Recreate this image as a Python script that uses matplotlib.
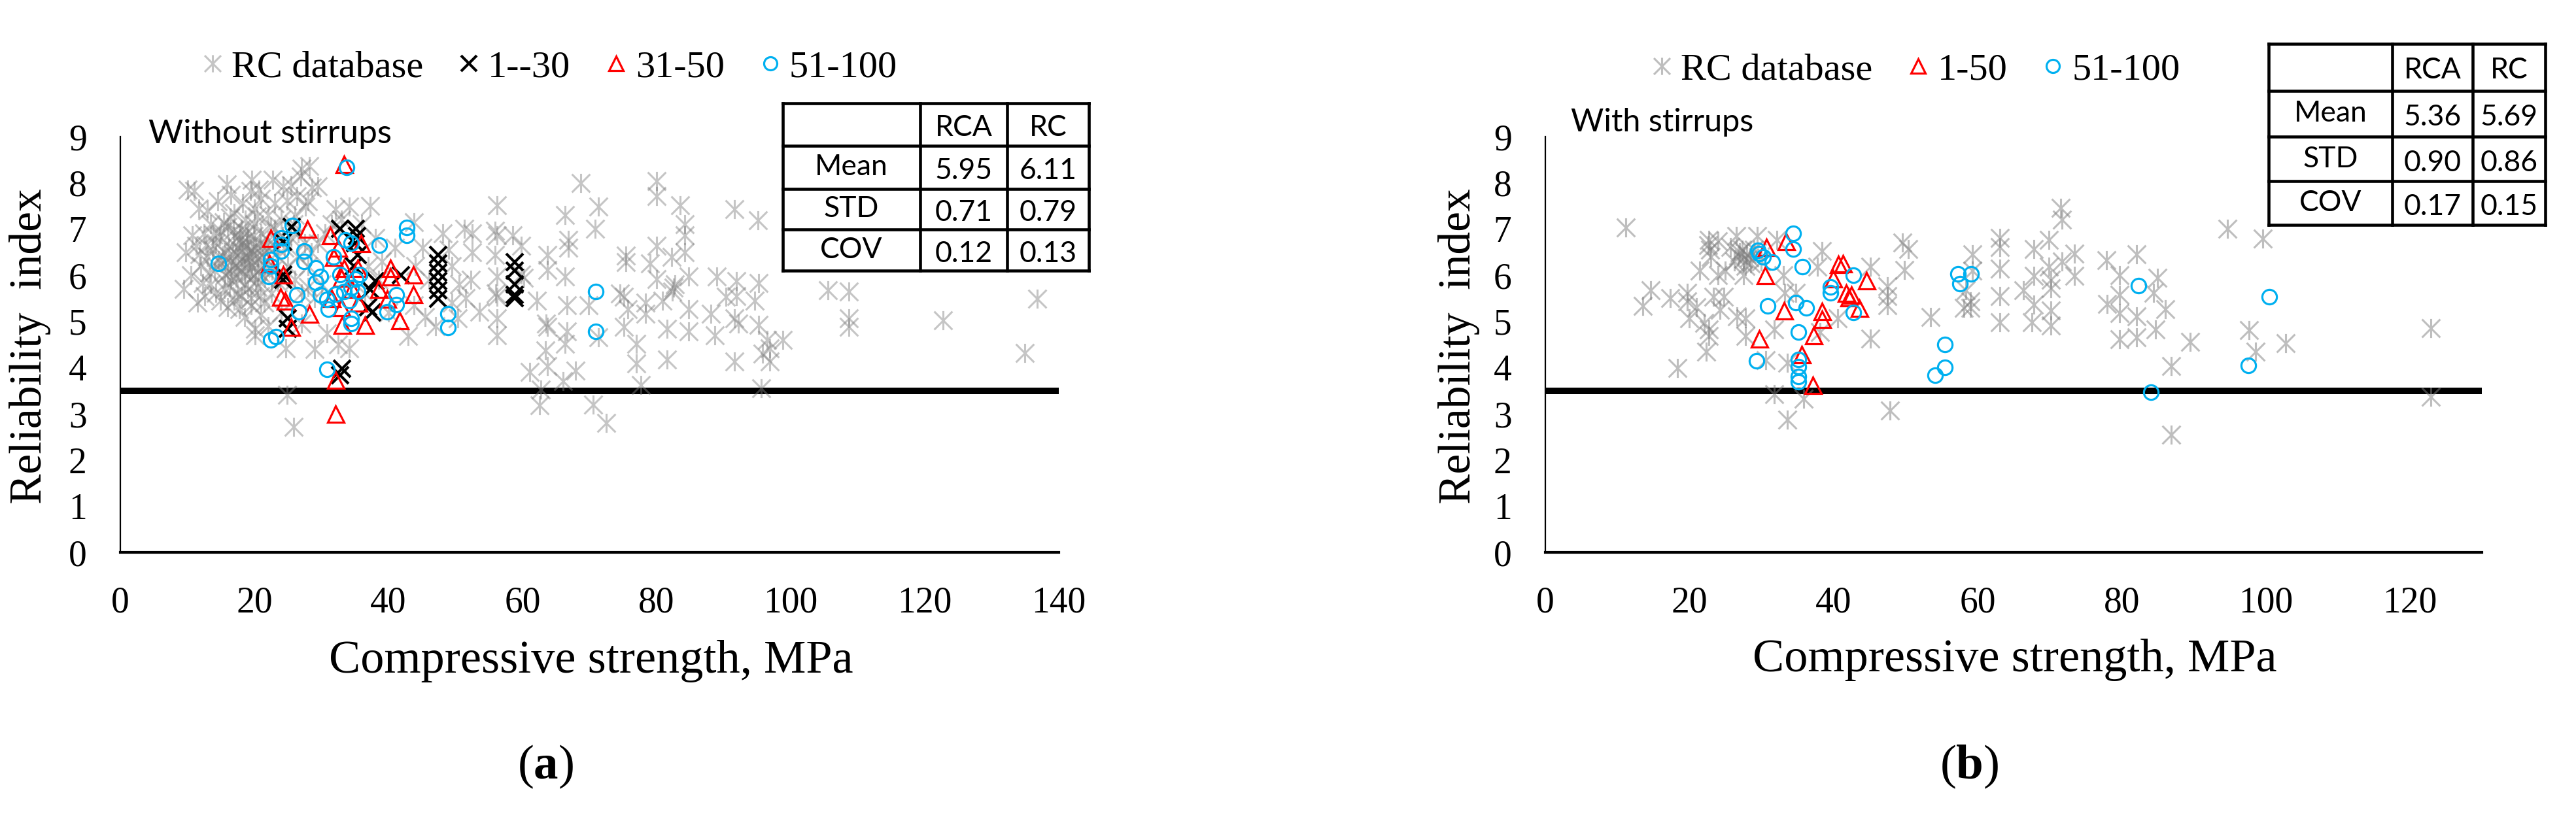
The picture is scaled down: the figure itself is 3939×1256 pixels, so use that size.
import numpy as np
import matplotlib
matplotlib.use("Agg")
import matplotlib.pyplot as plt
from matplotlib.path import Path
from matplotlib.lines import Line2D
from matplotlib.font_manager import FontProperties

plt.rcParams['font.family'] = ['Liberation Serif', 'DejaVu Serif']
plt.rcParams['mathtext.fontset'] = 'custom'
plt.rcParams['mathtext.rm'] = 'Liberation Serif'
plt.rcParams['mathtext.bf'] = 'Liberation Serif:bold'

# ---------------- data ----------------
# Panel (a): without stirrups
rc_a = [(11.0,7.83),(11.7,7.45),(15.9,7.97),(16.5,7.74),(19.6,8.07),(19.4,7.83),(22.7,8.07),(24.3,7.93),
        (26.9,8.14),(28.2,8.37),(28.6,7.90),(26.3,7.71),(29.5,7.93),(24.9,7.62),(27.6,7.48),(27.0,8.30),
        (25.5,7.95),(23.0,7.55),(21.0,7.65),(18.2,7.55),(14.5,7.60),(13.0,7.40),(17.0,7.35),(20.0,7.45),
        (22.0,7.30),(28.0,7.60),(26.0,7.30),(24.0,7.20),(10.0,7.85),(10.7,6.86),(11.3,6.63),(9.8,6.50),
        (12.5,6.90),(13.5,7.10),(14.2,6.70),(15.0,6.95),(16.0,7.05),(17.0,6.85),(18.0,7.00),(19.0,6.80),
        (20.0,7.10),(21.0,6.90),(22.0,6.75),(23.0,7.00),(15.5,6.50),(16.5,6.30),(17.5,6.60),(18.5,6.40),
        (19.5,6.55),(20.5,6.35),(21.5,6.50),(13.0,6.40),(12.0,6.20),(14.0,6.10),(15.0,6.25),(16.0,6.05),
        (17.0,6.20),(18.0,6.10),(19.0,6.25),(20.0,6.00),(21.0,6.15),(22.0,6.30),(23.5,6.40),(24.5,6.60),
        (25.5,6.80),(26.5,6.90),(27.5,6.70),(28.5,6.50),(29.5,6.70),(30.5,6.90),(31.5,7.10),(32.1,7.43),
        (34.1,7.48),(37.3,7.50),(36.0,7.10),(38.0,6.80),(39.0,6.30),(17.8,6.75),(18.8,6.65),(19.8,6.45),
        (16.8,6.45),(20.8,6.70),(17.3,5.95),(18.3,6.30),(19.3,6.05),(14.8,6.85),(13.8,6.55),(12.3,5.83),
        (12.6,5.55),(14.9,5.45),(17.8,5.26),(13.5,5.80),(15.5,5.70),(16.5,5.90),(17.5,5.60),(18.5,5.80),
        (19.5,5.50),(20.5,5.75),(21.5,5.40),(22.5,5.60),(23.5,5.85),(26.0,5.90),(27.0,5.60),(28.0,5.75),
        (29.0,5.50),(30.0,5.80),(16.0,5.30),(18.5,5.10),(19.5,5.35),(21.0,5.15),(24.0,5.20),(25.0,6.20),
        (26.5,6.40),(28.0,6.20),(10.5,6.00),(11.5,5.40),(9.5,5.70),
        (16.2,6.62),(17.2,6.48),(18.2,6.72),(19.2,6.38),(20.2,6.58),(17.6,6.18),(18.6,6.02),(19.6,6.18),
        (16.6,6.12),(20.6,6.08),(15.2,6.42),(21.2,6.42),(17.9,6.88),(18.9,6.92),(16.9,6.98),(19.9,6.85),
        (14.6,6.32),(15.6,6.02),(16.3,5.75),(18.0,5.55),(19.0,5.70),(20.2,5.85),(21.6,5.95),(22.6,6.10),
        (23.2,6.62),(24.2,6.85),(22.4,7.05),(20.4,7.28),(18.6,7.20),(16.4,7.25),(15.4,7.15),(13.9,6.88),
        (12.8,6.65),(11.8,6.45),(13.3,6.05),(14.2,5.62),(17.0,5.45),(20.9,5.55),(19.1,6.50),(18.1,6.52),
        (20.7,7.85),(25.9,7.10),(23.8,5.95),(21.8,6.62),
        (20.1,4.84),(20.1,4.70),(24.7,4.41),(34.1,4.41),(32.5,4.50),(42.9,4.69),(24.9,3.41),(25.9,2.71),
        (30.8,4.74),(22.0,4.90),(27.0,4.95),(29.0,4.40),
        (43.8,7.15),(48.1,6.91),(51.3,7.01),(45.1,6.60),(49.0,6.55),(43.8,5.35),(50.3,5.07),(37.0,6.20),
        (38.5,5.90),(41.0,6.60),(44.0,6.20),(46.0,5.90),(49.5,6.20),(50.5,5.80),(51.5,5.50),(49.5,5.40),
        (45.5,5.10),(47.0,4.90),(40.0,5.20),(36.5,5.60),(33.0,7.20),
        (56.2,7.52),(55.9,6.96),(56.2,6.86),(55.9,6.44),(58.5,6.86),(59.8,6.63),(56.2,5.97),(56.2,5.54),
        (56.0,5.60),(56.2,5.07),(56.2,4.70),(53.6,5.21),(52.5,6.90),(52.5,6.50),(52.3,5.90),(59.8,6.02),
        (60.2,5.95),(63.7,6.44),(63.7,6.11),(66.3,7.30),(66.8,6.77),(66.8,6.59),(66.3,5.97),(62.1,5.45),
        (63.7,4.88),(63.5,4.95),(66.6,5.35),(66.6,4.79),(66.3,4.51),(63.4,4.37),(63.7,4.04),(61.1,3.90),
        (67.9,3.94),(66.0,3.71),(62.7,3.52),(62.5,3.19),(68.7,8.00),(71.3,7.48),(70.8,7.01),(69.9,5.35),
        (71.3,4.65),(70.5,3.20),(72.5,2.80),(75.4,6.42),(75.4,6.28),(75.1,5.54),(74.5,5.60),(75.1,4.88),
        (77.0,4.51),(77.0,4.09),(77.7,3.62),(75.7,5.26),(78.3,5.17),(78.3,5.40),(80.0,8.04),(80.0,7.71),
        (83.5,7.52),(84.2,7.10),(84.2,6.86),(84.2,6.49),(80.0,6.63),(79.0,6.25),(82.2,6.39),(80.0,5.92),
        (82.5,5.73),(82.7,5.80),(82.3,5.65),(80.9,5.45),(84.8,5.97),(84.8,5.26),(84.8,4.79),(81.6,4.84),
        (81.6,4.18),(89.0,5.97),(90.3,5.54),(91.9,5.87),(91.9,5.55),(95.2,5.83),(94.6,5.45),(88.1,5.17),
        (88.7,4.70),(91.6,5.07),(92.2,4.95),(95.2,4.93),(96.5,4.60),(98.8,4.60),(96.9,4.41),(96.9,4.13),
        (95.8,4.30),(91.6,4.13),(95.6,3.55),(91.6,7.43),(95.1,7.19),
        (105.6,5.68),(108.7,5.64),(108.7,5.07),(108.7,4.88),(122.7,5.02),(136.8,5.49),(134.9,4.32)]

g1_30_a = [(25.6,7.05),(32.8,7.00),(35.1,7.00),(35.3,6.85),(35.0,6.70),(24.3,6.72),(24.3,6.02),(24.3,5.90),
           (35.4,6.44),(34.8,6.20),(38.0,5.87),(37.3,5.69),(37.0,5.31),(37.6,5.20),(25.0,5.07),(25.0,4.84),
           (33.1,3.98),(32.8,3.84),(41.9,6.00),(47.4,6.44),(47.4,6.25),(47.4,6.06),(47.4,5.87),(47.4,5.68),
           (47.4,5.49),(58.8,6.29),(58.8,6.10),(58.8,5.80),(58.8,5.58),(58.8,5.50)]

g31_50_a = [(33.4,8.40),(27.9,7.00),(22.4,6.81),(31.3,6.86),(35.9,6.69),(24.3,6.02),(22.2,6.25),(23.9,5.54),
            (24.6,5.45),(28.2,5.17),(25.5,4.88),(33.1,4.93),(36.5,4.93),(40.3,6.16),(40.3,5.97),(43.7,6.01),
            (43.7,5.59),(41.7,5.03),(39.8,5.49),(32.1,3.73),(32.1,3.00),(31.8,6.39),(33.4,6.16),(35.4,6.16),
            (32.5,6.60),(33.0,5.95),(34.5,5.70),(31.5,5.50),(35.5,5.40),(33.0,5.30),(38.5,5.70)]

g51_100_a = [(33.8,8.34),(14.6,6.26),(25.7,7.08),(24.0,6.81),(24.0,6.67),(24.0,6.53),(22.4,6.34),(22.4,6.20),
             (22.1,5.97),(27.4,6.53),(27.4,6.30),(26.3,5.58),(26.6,5.21),(22.4,4.60),(23.2,4.67),(30.8,3.96),
             (33.6,6.77),(34.4,6.69),(38.6,6.65),(42.7,7.03),(42.7,6.86),(48.9,5.17),(48.9,4.87),(41.2,5.58),
             (41.2,5.37),(39.8,5.21),(34.4,5.07),(34.4,4.95),(29.2,6.16),(29.2,5.85),(29.9,5.57),(30.8,5.48),
             (31.8,6.39),(32.8,6.02),(33.4,5.64),(34.1,5.45),(35.1,5.92),(35.4,5.64),(29.9,5.97),(32.1,5.59),
             (34.4,5.73),(35.7,6.02),(31.0,5.26),(70.9,5.65),(70.9,4.79)]

# Panel (b): with stirrups
rc_b = [(11.2,7.04),(14.6,5.67),(13.5,5.34),(17.3,5.50),(19.7,5.62),(19.7,5.43),(20.0,5.06),(22.1,4.96),
        (22.7,4.82),(22.7,4.68),(22.3,4.35),(18.3,3.99),(21.4,6.10),(22.7,6.76),(22.6,6.65),(24.0,6.73),
        (24.0,6.00),(23.3,5.53),(24.8,5.53),(24.2,5.25),(26.5,6.85),(25.7,6.61),(27.0,6.50),(27.5,6.35),
        (28.0,6.45),(28.5,6.25),(29.0,6.55),(27.8,6.20),(26.2,6.30),(27.5,6.00),(26.6,5.11),(27.8,5.06),
        (27.8,4.68),(29.4,6.85),(32.1,6.76),(31.8,4.82),(33.0,6.00),(33.2,5.62),(34.8,5.62),(31.8,3.42),
        (35.9,3.32),(33.6,2.87),(38.4,6.52),(37.8,6.19),(38.1,4.77),(40.6,5.06),(45.1,6.19),(45.1,4.63),
        (47.5,5.76),(47.5,5.55),(47.5,5.35),(47.8,3.07),(30.6,4.16),(33.6,4.11),(23.0,6.40),(25.0,6.10),
        (30.0,6.30),(21.0,5.30),(26.8,6.42),(27.3,6.55),(28.3,6.38),(22.9,6.55),
        (49.6,6.71),(50.4,6.57),(49.8,6.12),(53.5,5.10),(59.3,6.45),(59.3,6.10),(58.4,5.67),(59.0,5.43),
        (59.0,5.29),(58.1,5.29),(63.1,6.80),(63.1,6.61),(63.1,6.14),(63.1,5.55),(63.1,4.98),(66.4,5.67),
        (67.8,6.57),(67.8,5.98),(67.8,5.36),(67.5,4.98),(69.9,6.76),(69.9,6.19),(70.2,5.90),(70.2,5.71),
        (70.2,5.24),(70.2,4.91),(71.5,7.46),(71.7,7.20),(73.4,6.47),(73.4,5.98),(71.7,6.30),(77.9,6.33),
        (79.7,6.00),(79.7,5.57),(78.0,5.38),(79.7,5.18),(79.7,4.61),(82.1,6.45),(82.1,5.11),(82.1,4.66),
        (85.0,5.95),(84.4,5.62),(86.1,5.27),(84.7,4.82),(89.5,4.56),(86.9,4.04),(86.9,2.55),(94.7,7.00),
        (99.6,6.79),(97.7,4.81),(98.6,4.35),(102.8,4.53),(122.9,4.86),(122.9,3.37)]

g1_50_b = [(30.7,6.61),(33.4,6.73),(30.5,6.00),(40.7,6.24),(41.3,6.26),(39.9,5.93),(41.8,5.62),(42.1,5.52),
           (42.5,5.58),(43.6,5.29),(44.6,5.88),(33.1,5.24),(38.4,5.22),(38.4,5.05),(37.2,4.70),(29.7,4.63),
           (35.6,4.29),(37.1,3.62)]

g51_100_b = [(29.5,6.54),(29.7,6.47),(30.2,6.40),(31.5,6.28),(34.4,6.90),(34.4,6.57),(35.7,6.19),(39.6,5.74),
             (39.6,5.62),(42.8,6.00),(42.8,5.20),(34.8,5.41),(36.2,5.29),(30.9,5.34),(35.1,4.77),(29.3,4.14),
             (35.1,4.18),(35.1,4.02),(35.1,3.81),(35.1,3.69),
             (57.3,6.03),(59.1,6.03),(57.6,5.81),(55.5,4.50),(55.5,4.01),(54.1,3.84),(82.3,5.78),(84.1,3.47),
             (100.5,5.54),(97.6,4.05)]

target_beta = 3.5

table_cols = ["", "RCA", "RC"]
table_rows = ["Mean", "STD", "COV"]
table_a = [["5.95", "6.11"], ["0.71", "0.79"], ["0.12", "0.13"]]
table_b = [["5.36", "5.69"], ["0.90", "0.86"], ["0.17", "0.15"]]

labels_a = ["RC database", "1--30", "31-50", "51-100"]
labels_b = ["RC database", "1-50", "51-100"]

xticks_a = [0, 20, 40, 60, 80, 100, 120, 140]
xticks_b = [0, 20, 40, 60, 80, 100, 120]
yticks = [0, 1, 2, 3, 4, 5, 6, 7, 8, 9]

# ---------------- figure ----------------
W, H = 3939, 1256
fig = plt.figure(figsize=(W / 100, H / 100), dpi=100)

def fx(px):
    return px / W

def fy(py):
    return 1 - py / H

star = Path([(-1, -1), (1, 1), (-1, 1), (1, -1), (0, -1.05), (0, 1.05)],
            [Path.MOVETO, Path.LINETO, Path.MOVETO, Path.LINETO, Path.MOVETO, Path.LINETO])

GRAY = '#7f7f7f'
RED = '#FF0000'
BLUE = '#00B0F0'

def setup_axes(rect, xmax, xticks):
    ax = fig.add_axes(rect)
    ax.set_xlim(0, xmax)
    ax.set_ylim(0, 9)
    ax.set_xticks(xticks)
    ax.set_yticks(yticks)
    ax.spines['top'].set_visible(False)
    ax.spines['right'].set_visible(False)
    ax.spines['left'].set_linewidth(1.6)
    ax.spines['bottom'].set_linewidth(3.0)
    ax.tick_params(length=0, pad=37, labelsize=40)
    ax.axhline(target_beta, color='black', lw=7.2, zorder=1)
    return ax

def draw_table(cols_px, rows_px, values):
    lw = 3.3
    for c in cols_px:
        fig.add_artist(Line2D([fx(c), fx(c)], [fy(rows_px[0]), fy(rows_px[-1])],
                              color='black', lw=lw, transform=fig.transFigure))
    for r in rows_px:
        fig.add_artist(Line2D([fx(cols_px[0]), fx(cols_px[-1])], [fy(r), fy(r)],
                              color='black', lw=lw, transform=fig.transFigure, solid_capstyle='projecting'))
    fp = dict(family=['Lato', 'DejaVu Sans'], size=32)
    for j, name in enumerate(table_cols):
        if name:
            cx = (cols_px[j] + cols_px[j + 1]) / 2
            cy = (rows_px[0] + rows_px[1]) / 2 + 5
            fig.text(fx(cx), fy(cy), name, ha='center', va='center', **fp)
    for i, name in enumerate(table_rows):
        cy = (rows_px[i + 1] + rows_px[i + 2]) / 2
        cx = (cols_px[0] + cols_px[1]) / 2
        fig.text(fx(cx), fy(cy), name, ha='center', va='center', **fp)
        for j in range(2):
            cx = (cols_px[j + 1] + cols_px[j + 2]) / 2
            fig.text(fx(cx), fy(cy + 6), values[i][j], ha='center', va='center', **fp)

def plot_group(ax, pts, **kw):
    a = np.array(pts)
    return ax.plot(a[:, 0], a[:, 1], linestyle='none', **kw)[0]

legend_font = FontProperties(family='Liberation Serif', size=42)

# ---------- panel (a) ----------
axa = setup_axes([fx(184), fy(845), fx(1619 - 184), (845 - 209) / H], 140, xticks_a)
h0 = plot_group(axa, rc_a, marker=star, markersize=21, markeredgewidth=2.2, markeredgecolor=GRAY,
                markerfacecolor='none', alpha=0.45, zorder=2)
h1 = plot_group(axa, g1_30_a, marker='x', markersize=19, markeredgewidth=3.0, color='black', zorder=3)
h2 = plot_group(axa, g31_50_a, marker='^', markersize=18, markeredgewidth=2.3, markeredgecolor=RED,
                markerfacecolor='none', zorder=4)
h3 = plot_group(axa, g51_100_a, marker='o', markersize=16, markeredgewidth=2.3, markeredgecolor=BLUE,
                markerfacecolor='none', zorder=5)
fig.legend([h0, h1, h2, h3], labels_a, loc='center', bbox_to_anchor=(fx(841), fy(103)),
           bbox_transform=fig.transFigure, ncol=4, frameon=False, prop=legend_font,
           handlelength=0.5, handletextpad=0.25, columnspacing=0.95, borderpad=0, borderaxespad=0,
           markerscale=0.9)
fig.text(fx(227), fy(219), "Without stirrups", ha='left', va='baseline',
         family=['Lato', 'DejaVu Sans'], size=37)
draw_table([1197, 1407, 1540, 1665], [158, 223, 289, 351, 414], table_a)
fig.text(fx(46), fy(530), "Reliability  index", rotation=90, ha='center', va='center', size=50)
fig.text(fx(904), fy(1029), "Compressive strength, MPa", ha='center', va='baseline', size=52)
fig.text(fx(834), fy(1191), r"($\mathbf{a}$)", ha='center', va='baseline', size=54)

# ---------- panel (b) ----------
axb = setup_axes([fx(2363), fy(845), fx(3795 - 2363), (845 - 209) / H], 130, xticks_b)
k0 = plot_group(axb, rc_b, marker=star, markersize=21, markeredgewidth=2.2, markeredgecolor=GRAY,
                markerfacecolor='none', alpha=0.5, zorder=2)
k1 = plot_group(axb, g1_50_b, marker='^', markersize=18, markeredgewidth=2.3, markeredgecolor=RED,
                markerfacecolor='none', zorder=4)
k2 = plot_group(axb, g51_100_b, marker='o', markersize=16, markeredgewidth=2.3, markeredgecolor=BLUE,
                markerfacecolor='none', zorder=5)
fig.legend([k0, k1, k2], labels_b, loc='center', bbox_to_anchor=(fx(2930), fy(107)),
           bbox_transform=fig.transFigure, ncol=3, frameon=False, prop=legend_font,
           handlelength=0.5, handletextpad=0.25, columnspacing=0.95, borderpad=0, borderaxespad=0,
           markerscale=0.9)
fig.text(fx(2402), fy(201), "With stirrups", ha='left', va='baseline',
         family=['Lato', 'DejaVu Sans'], size=35)
draw_table([3469, 3658, 3781, 3892], [67, 139, 209, 277, 344], table_b)
fig.text(fx(2231), fy(530), "Reliability  index", rotation=90, ha='center', va='center', size=50)
fig.text(fx(3081), fy(1027), "Compressive strength, MPa", ha='center', va='baseline', size=52)
fig.text(fx(3011), fy(1191), r"($\mathbf{b}$)", ha='center', va='baseline', size=54)

fig.savefig("out.png", dpi=100)
